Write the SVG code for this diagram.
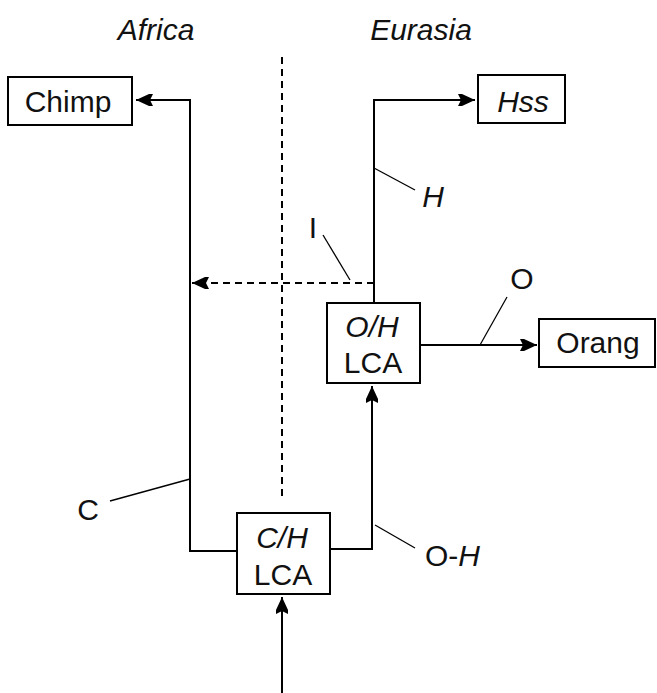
<svg xmlns="http://www.w3.org/2000/svg" width="657" height="693" viewBox="0 0 657 693">
<defs>
<style>
.box{fill:#fff;stroke:#000;stroke-width:2}
.t{font-family:"Liberation Sans",Arial,sans-serif;font-size:30px;fill:#111}
.it{font-style:italic}
.ln{fill:none;stroke:#000;stroke-width:2}
.dash{fill:none;stroke:#000;stroke-width:2;stroke-dasharray:7,5}
.lab{fill:none;stroke:#000;stroke-width:1.3}
</style>
<marker id="ah" markerUnits="userSpaceOnUse" markerWidth="20" markerHeight="16" viewBox="0 -8 20 16" refX="17" refY="0" orient="auto">
<path d="M0,-6 L4,-6 L17,0 L4,6 L0,6 L3,0 z" fill="#000"/>
</marker>
</defs>
<rect width="657" height="693" fill="#fff"/>
<g id="regions">
<text class="t it" x="156" y="40" text-anchor="middle">Africa</text>
<text class="t it" x="421" y="40" text-anchor="middle">Eurasia</text>
</g>
<g id="connectors">
<line class="dash" x1="282" y1="57" x2="282" y2="497"/>
<polyline class="ln" points="237,551 190,551 190,100 136,100" marker-end="url(#ah)"/>
<polyline class="ln" points="374,303 374,100 475,100" marker-end="url(#ah)"/>
<line class="dash" x1="374" y1="283" x2="192" y2="283" marker-end="url(#ah)"/>
<line class="ln" x1="420" y1="345" x2="537" y2="345" marker-end="url(#ah)"/>
<polyline class="ln" points="330,549 372,549 372,386" marker-end="url(#ah)"/>
<line class="ln" x1="282" y1="693" x2="282" y2="597" marker-end="url(#ah)"/>
<line class="lab" x1="374" y1="168" x2="415" y2="190"/>
<line class="lab" x1="323" y1="235" x2="350" y2="280"/>
<line class="lab" x1="480" y1="345" x2="507" y2="297"/>
<line class="lab" x1="110" y1="501" x2="190" y2="479"/>
<line class="lab" x1="375" y1="525" x2="415" y2="548"/>
</g>
<g id="labels">
<text class="t it" x="433" y="207" text-anchor="middle">H</text>
<text class="t" x="313" y="238" text-anchor="middle">I</text>
<text class="t" x="522" y="289" text-anchor="middle">O</text>
<text class="t" x="88" y="520" text-anchor="middle">C</text>
<text class="t" x="425" y="566">O-<tspan class="it">H</tspan></text>
</g>
<g id="chimp">
<rect class="box" x="8" y="77" width="124" height="48"/>
<text class="t" x="68" y="112" text-anchor="middle">Chimp</text>
</g>
<g id="hss">
<rect class="box" x="478" y="75" width="87" height="48"/>
<text class="t it" x="523" y="112" text-anchor="middle">Hss</text>
</g>
<g id="orang">
<rect class="box" x="539" y="319" width="116" height="48"/>
<text class="t" x="598" y="353" text-anchor="middle">Orang</text>
</g>
<g id="oh-lca">
<rect class="box" x="327" y="303" width="93" height="80"/>
<text class="t it" x="372" y="337" text-anchor="middle">O/H</text>
<text class="t" x="373" y="373" text-anchor="middle">LCA</text>
</g>
<g id="ch-lca">
<rect class="box" x="237" y="513" width="93" height="81"/>
<text class="t it" x="282" y="548" text-anchor="middle">C/H</text>
<text class="t" x="283" y="585" text-anchor="middle">LCA</text>
</g>
</svg>
